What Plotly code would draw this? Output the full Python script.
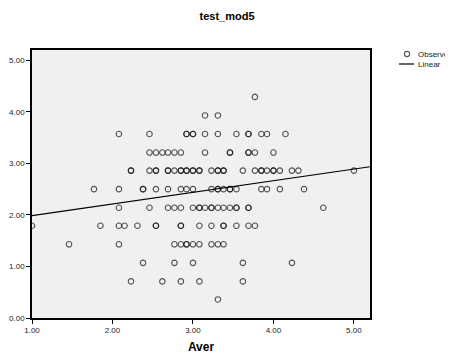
import numpy as np
import plotly.graph_objects as go

# ---- data (x = Aver, y = test_mod5) ----
y_levels = [4.29, 3.93, 3.57, 3.21, 2.86, 2.50, 2.14, 1.79, 1.43, 1.07, 0.71, 0.36]

x_at_429 = [3.77]
x_at_393 = [3.15, 3.31]
x_at_357 = [2.08, 2.46, 2.92, 2.92, 3.00, 3.00, 3.15, 3.31, 3.54, 3.69, 3.69, 3.85, 3.92, 4.15]
x_at_321 = [2.46, 2.54, 2.62, 2.69, 2.77, 2.85, 3.15, 3.46, 3.46, 3.69, 3.69, 3.77, 4.00]
x_at_286 = [2.23, 2.23, 2.46, 2.54, 2.54, 2.69, 2.69, 2.77, 2.85, 2.85, 2.92, 2.92,
            3.00, 3.00, 3.08, 3.08, 3.23, 3.31, 3.31, 3.38, 3.38, 3.62, 3.77, 3.85,
            3.85, 3.92, 4.00, 4.00, 4.08, 4.23, 4.31, 5.00]
x_at_250 = [1.77, 2.08, 2.38, 2.38, 2.54, 2.69, 2.85, 2.92, 3.00, 3.23, 3.31, 3.31,
            3.38, 3.46, 3.46, 3.54, 3.85, 3.92, 4.08, 4.38]
x_at_214 = [2.08, 2.46, 2.69, 2.77, 2.85, 3.00, 3.08, 3.08, 3.15, 3.23, 3.23, 3.31,
            3.38, 3.46, 3.54, 3.54, 3.69, 3.69, 4.62]
x_at_179 = [1.00, 1.85, 2.08, 2.15, 2.31, 2.54, 2.54, 2.85, 2.85, 3.08, 3.23, 3.38,
            3.38, 3.54, 3.69, 3.77]
x_at_143 = [1.46, 2.08, 2.77, 2.85, 2.92, 2.92, 3.00, 3.08, 3.23, 3.31, 3.38]
x_at_107 = [2.38, 2.77, 3.00, 3.62, 4.23]
x_at_071 = [2.23, 2.62, 2.85, 3.08, 3.62]
x_at_036 = [3.31]

x_rows = [x_at_429, x_at_393, x_at_357, x_at_321, x_at_286, x_at_250,
          x_at_214, x_at_179, x_at_143, x_at_107, x_at_071, x_at_036]

# linear fit
fit_intercept = 1.76
fit_slope = 0.226

x_ticks = [1.0, 2.0, 3.0, 4.0, 5.0]
y_ticks = [0.0, 1.0, 2.0, 3.0, 4.0, 5.0]
legend_labels = ["Observed", "Linear"]

aver = []
test_mod5 = []
for yv, xs in zip(y_levels, x_rows):
    for xv in xs:
        aver.append(xv)
        test_mod5.append(yv)

x_min, x_max = 1.0, 5.2
y_min, y_max = 0.0, 5.2

fit_x = np.array([x_min, x_max])
fit_y = fit_intercept + fit_slope * fit_x

FONT = "Liberation Sans, Arial, sans-serif"
MARK = "rgba(20,20,20,0.72)"

# the page body has an 8px default margin; size the figure so that the
# whole page (453x358) lines up with the reference
OFF = 8
PAGE_W, PAGE_H = 453, 358
W, H = PAGE_W - OFF, PAGE_H - OFF
PLOT_L, PLOT_R, PLOT_T, PLOT_B = 32, 370, 50, 318   # page pixels
ML, MR = PLOT_L - OFF, PAGE_W - PLOT_R
MT, MB = PLOT_T - OFF, PAGE_H - PLOT_B
PW, PH = PLOT_R - PLOT_L, PLOT_B - PLOT_T


def px_x(px):
    return (px - PLOT_L) / PW


def px_y(py):
    return (PLOT_B - py) / PH


fig = go.Figure()
fig.add_trace(go.Scatter(
    x=aver, y=test_mod5, mode="markers", name=legend_labels[0],
    showlegend=False,
    marker=dict(symbol="circle-open", size=5.5, color=MARK,
                line=dict(width=1.1, color=MARK)),
))
fig.add_trace(go.Scatter(
    x=fit_x, y=fit_y, mode="lines", name=legend_labels[1],
    showlegend=False,
    line=dict(color="black", width=1.2),
))

axis_common = dict(
    showgrid=False, zeroline=False, showline=True, linecolor="black",
    linewidth=1.6, mirror=True, ticks="outside", ticklen=4, tickcolor="black",
    tickwidth=1, tickformat=".2f", automargin=False,
    tickfont=dict(family=FONT, size=8, color="#222"),
)

# compact SPSS-style legend (key drawn beside the plot)
shapes = [
    dict(type="circle", xref="paper", yref="paper",
         xsizemode="pixel", ysizemode="pixel",
         xanchor=px_x(407), yanchor=px_y(54),
         x0=-2.6, x1=2.6, y0=-2.6, y1=2.6,
         line=dict(color=MARK, width=1.1), fillcolor="rgba(0,0,0,0)"),
    dict(type="line", xref="paper", yref="paper",
         x0=px_x(399), x1=px_x(414), y0=px_y(64), y1=px_y(64),
         line=dict(color="black", width=1.2)),
]
annotations = [
    dict(text=legend_labels[0], xref="paper", yref="paper", x=px_x(416), y=px_y(54),
         xanchor="left", yanchor="middle", showarrow=False,
         font=dict(family=FONT, size=8, color="#222")),
    dict(text=legend_labels[1], xref="paper", yref="paper", x=px_x(416), y=px_y(64),
         xanchor="left", yanchor="middle", showarrow=False,
         font=dict(family=FONT, size=8, color="#222")),
]

fig.update_layout(
    width=W, height=H,
    margin=dict(l=ML, r=MR, t=MT, b=MB, pad=0),
    paper_bgcolor="white", plot_bgcolor="#F0F0F0",
    title=dict(text="<b>test_mod5</b>", x=(227 - OFF) / W, xref="container",
               xanchor="center", y=1 - (16 - OFF) / H, yref="container",
               yanchor="middle",
               font=dict(family=FONT, size=11, color="black")),
    xaxis=dict(range=[x_min, x_max], tickvals=x_ticks,
               title=dict(text="<b>Aver</b>", standoff=8,
                          font=dict(family=FONT, size=12, color="black")),
               **axis_common),
    yaxis=dict(range=[y_min, y_max], tickvals=y_ticks, **axis_common),
    shapes=shapes,
    annotations=annotations,
    showlegend=False,
)

fig.write_html("out.html")
